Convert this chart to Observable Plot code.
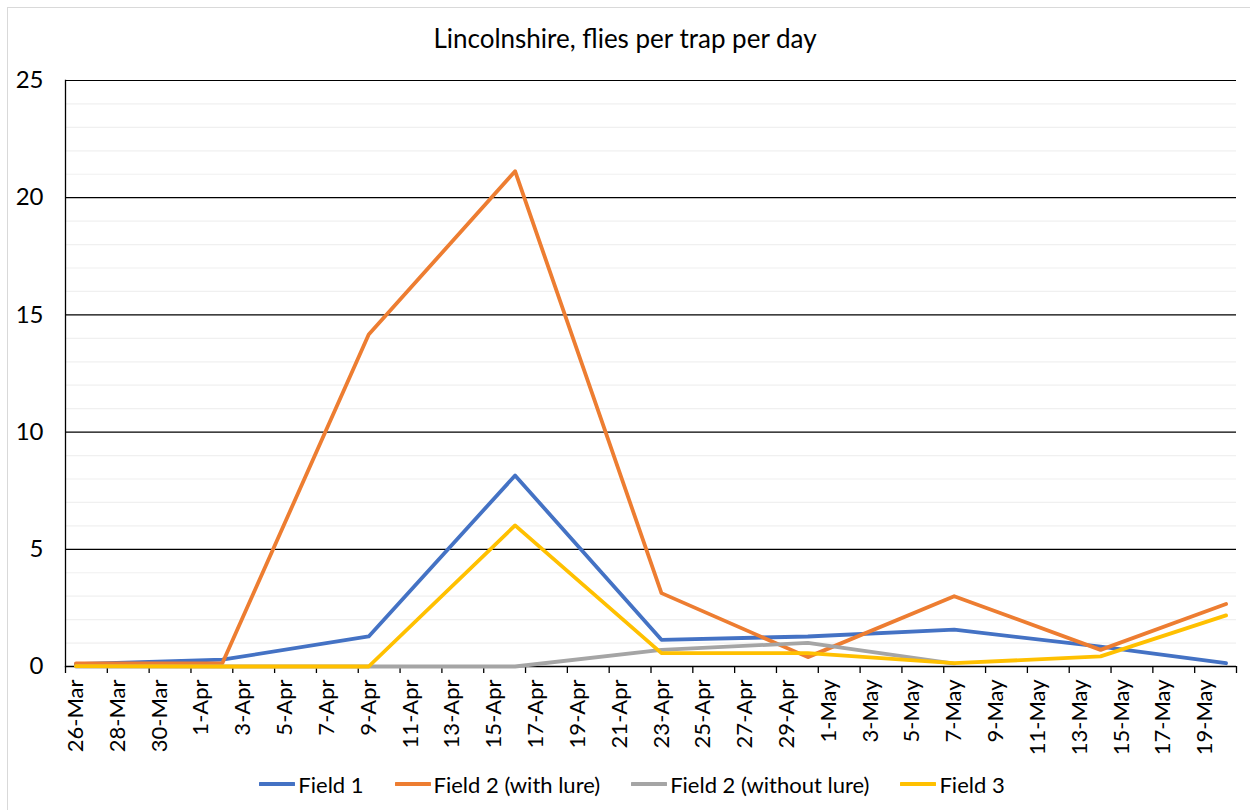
<!DOCTYPE html>
<html>
<head>
<meta charset="utf-8">
<script src="https://cdn.jsdelivr.net/npm/d3@7"></script>
<script src="https://cdn.jsdelivr.net/npm/@observablehq/plot@0.6"></script>
<style>
  body { margin: 0; background: #fff; font-family: Lato, "Open Sans", sans-serif; }
  #frame { position: absolute; left: 7px; top: 7px; width: 1300px; height: 900px; border: 1px solid #d9d9d9; box-sizing: border-box; pointer-events: none; }
  #wrap { position: relative; width: 1250px; }
  #title { height: 60px; box-sizing: border-box; padding-top: 24px; text-align: center; font-size: 26px; line-height: 28px; color: #000; }
  #legend { height: 50px; display: flex; justify-content: center; align-items: center; gap: 31px; font-size: 22px; color: #000; padding-left: 14px; padding-bottom: 2px; box-sizing: border-box; }
  .item { display: flex; align-items: center; gap: 3px; }
</style>
</head>
<body>
<div id="frame"></div>
<div id="wrap">
  <div id="title">Lincolnshire, flies per trap per day</div>
  <div id="chart"></div>
  <div id="legend"></div>
</div>
<script>
// ---- data ----
const dates = ["26-Mar", "2-Apr", "9-Apr", "16-Apr", "23-Apr", "30-Apr", "7-May", "14-May", "20-May"];
const field1 = [0.10, 0.29, 1.28, 8.15, 1.14, 1.28, 1.57, 0.85, 0.14];
const field2WithLure = [0.13, 0.14, 14.16, 21.13, 3.13, 0.40, 3.00, 0.71, 2.67];
const field2WithoutLure = [0, 0, 0, 0, 0.71, 1.01, 0.12];
const field3 = [0.02, 0, 0, 6.02, 0.57, 0.57, 0.14, 0.43, 2.18];

const seriesNames = ["Field 1", "Field 2 (with lure)", "Field 2 (without lure)", "Field 3"];
const seriesColors = ["#4472C4", "#ED7D31", "#A5A5A5", "#FFC000"];

const xTickLabels = ["26-Mar", "28-Mar", "30-Mar", "1-Apr", "3-Apr", "5-Apr", "7-Apr", "9-Apr", "11-Apr",
  "13-Apr", "15-Apr", "17-Apr", "19-Apr", "21-Apr", "23-Apr", "25-Apr", "27-Apr", "29-Apr", "1-May",
  "3-May", "5-May", "7-May", "9-May", "11-May", "13-May", "15-May", "17-May", "19-May"];
const yTickLabels = [0, 5, 10, 15, 20, 25];
const firstDay = "26-Mar";
const lastDay = "20-May";

// ---- build ----
const parse = s => d3.utcParse("%d-%b-%Y")(s + "-2021");
const half = 12 * 3600 * 1000;
const xDomain = [new Date(+parse(firstDay) - half), new Date(+parse(lastDay) + half)];
const labelDates = xTickLabels.map(parse);
// tick marks sit on the boundaries between day slots, before each label and after the last day
const boundaryDates = labelDates.map(d => new Date(+d - half)).concat([xDomain[1]]);

const allSeries = [field1, field2WithLure, field2WithoutLure, field3];
const tables = allSeries.map((vals, i) => vals.map((v, j) => ({date: parse(dates[j]), value: v, series: seriesNames[i]})));

const minorY = d3.range(0, 26).filter(v => v % 5 !== 0);
const majorY = yTickLabels.filter(v => v !== 0);

const chart = Plot.plot({
  width: 1250,
  height: 700,
  marginTop: 20,
  marginBottom: 94,
  marginLeft: 65,
  marginRight: 14,
  style: {fontFamily: "Lato, 'Open Sans', sans-serif", fontSize: "22px", color: "#000", background: "transparent", overflow: "visible"},
  x: {type: "utc", domain: xDomain, label: null},
  y: {domain: [0, 25], label: null},
  marks: [
    Plot.gridY(minorY, {stroke: "#f0f0f0", strokeOpacity: 1, strokeWidth: 1.2}),
    Plot.gridY(majorY, {stroke: "#000", strokeOpacity: 1, strokeWidth: 1.2}),
    Plot.axisY(yTickLabels, {tickSize: 0, tickPadding: 22, fontSize: 24, label: null}),
    Plot.axisX(labelDates, {tickSize: 0, tickPadding: 13, tickRotate: -90, tickFormat: d3.utcFormat("%-d-%b"), fontSize: 22, label: null}),
    Plot.axisX(boundaryDates, {tickSize: 7, tickFormat: () => "", stroke: "#000", strokeWidth: 1.3, label: null}),
    Plot.frame({anchor: "left", stroke: "#000", strokeWidth: 1.3}),
    Plot.ruleY([0], {stroke: "#000", strokeWidth: 1.3}),
    ...tables.map((t, i) => Plot.lineY(t, {x: "date", y: "value", stroke: seriesColors[i], strokeWidth: 3.8, strokeLinejoin: "round", strokeLinecap: "round"}))
  ]
});
document.getElementById("chart").appendChild(chart);

// ---- legend ----
const legend = document.getElementById("legend");
seriesNames.forEach((name, i) => {
  const item = document.createElement("div");
  item.className = "item";
  item.innerHTML = `<svg width="36" height="8"><line x1="1" y1="4" x2="35" y2="4" stroke="${seriesColors[i]}" stroke-width="4" stroke-linecap="round"/></svg><span>${name}</span>`;
  legend.appendChild(item);
});
</script>
</body>
</html>
